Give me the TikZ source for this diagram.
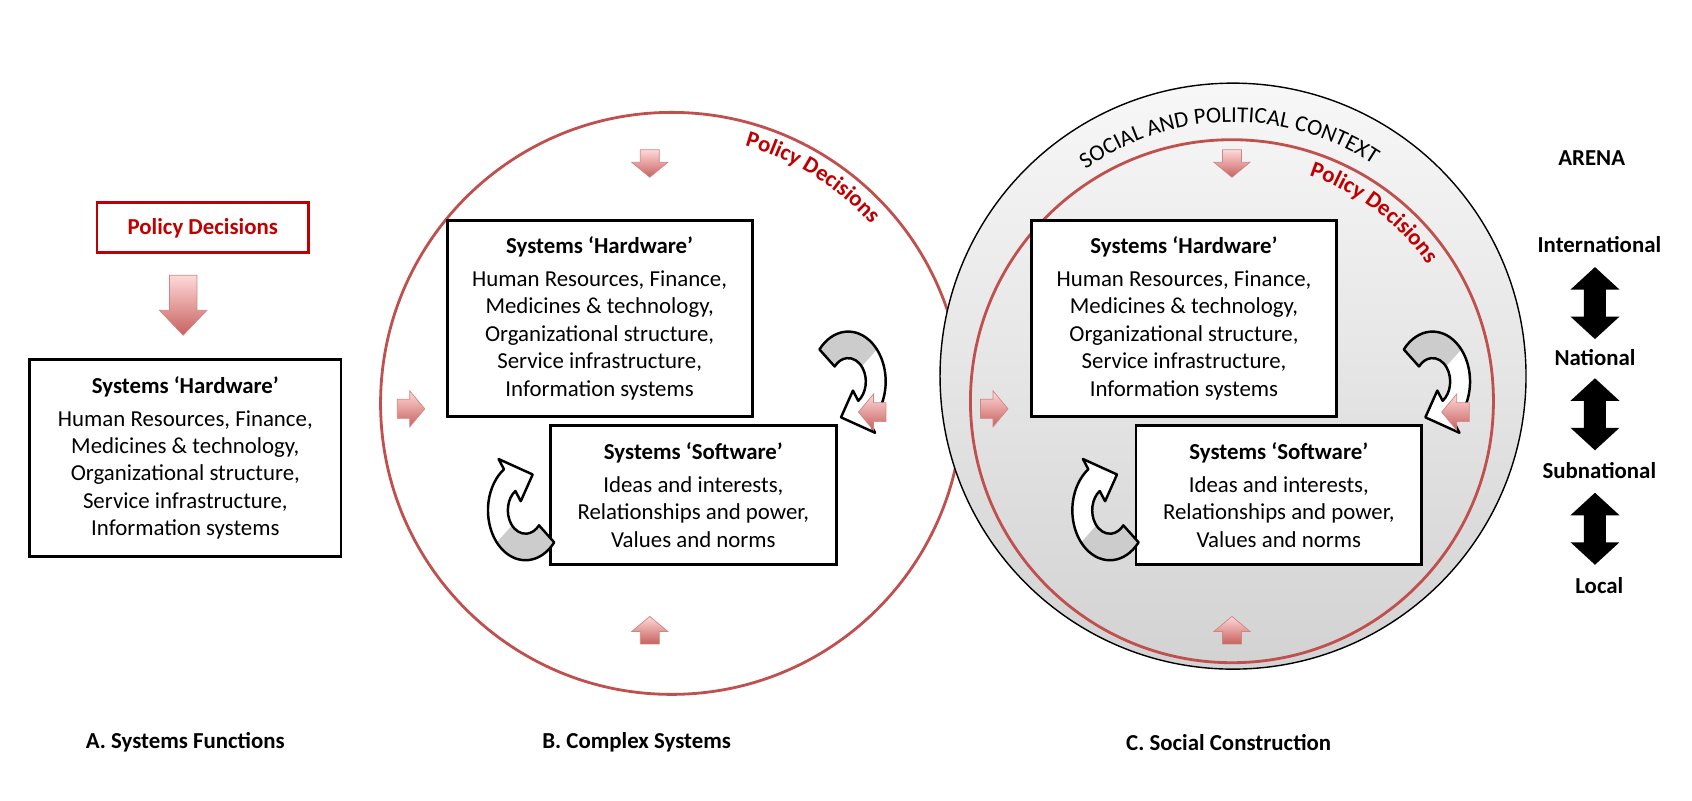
\documentclass[tikz,border=0pt]{standalone}
\usepackage{fontspec}
\setmainfont{Carlito}
\usepackage{tikz}
\usetikzlibrary{decorations.text}

\definecolor{pdred}{HTML}{C00000}
\definecolor{ringred}{HTML}{C0504D}

\tikzset{
  sysbox/.style={draw=black, line width=1.6pt, fill=white, align=center,
    inner sep=0pt, font=\fontsize{13}{15.6}\selectfont},
  redfill/.style={draw=ringred!70, thin, top color=red!15!white, bottom color=ringred!90},
  arena/.style={font=\fontsize{13}{15.6}\selectfont\bfseries},
  caption/.style={font=\fontsize{13}{15.6}\selectfont\bfseries}
}

% block arrow: #1 position, #2 angle, #3 length, #4 shaft, #5 head width, #6 head length, #7 style
\newcommand{\blockarrow}[7]{%
  \begin{scope}[shift={#1}, x=1cm, y=1cm, rotate=#2]
    \path[#7] ({-#3/2},{-#4/2}) -- ({#3/2-#6},{-#4/2}) -- ({#3/2-#6},{-#5/2})
      -- ({#3/2},0) -- ({#3/2-#6},{#5/2}) -- ({#3/2-#6},{#4/2})
      -- ({-#3/2},{#4/2}) -- cycle;
  \end{scope}}

% vertical double arrow at #1
\newcommand{\updown}[1]{%
  \begin{scope}[shift={#1}, x=1cm, y=1cm, rotate=90]
    \fill[black] (-0.72,0) -- (-0.27,0.49) -- (-0.27,0.22) -- (0.27,0.22)
      -- (0.27,0.49) -- (0.72,0) -- (0.27,-0.49) -- (0.27,-0.22)
      -- (-0.27,-0.22) -- (-0.27,-0.49) -- cycle;
  \end{scope}}

% ribbon arrow: #1 position, #2 rotation
\newcommand{\cyclearrow}[2]{%
  \begin{scope}[shift={#1}, x=1cm, y=1cm, rotate=#2, xscale=0.75]
    \fill[white] (140:1.0) arc[start angle=140, end angle=-55, radius=1.0]
      -- (-55:1.25) -- (-105:0.74) -- (-55:0.22) -- (-55:0.47)
      arc[start angle=-55, end angle=140, radius=0.47] -- cycle;
    \fill[gray!40] (140:1.0) arc[start angle=140, end angle=40, radius=1.0]
      -- (40:0.47) arc[start angle=40, end angle=140, radius=0.47] -- cycle;
    \draw[line width=1.4pt, line join=round] (140:1.0)
      arc[start angle=140, end angle=-55, radius=1.0]
      -- (-55:1.25) -- (-105:0.74) -- (-55:0.22) -- (-55:0.47)
      arc[start angle=-55, end angle=140, radius=0.47] -- cycle;
  \end{scope}}

\newcommand{\hwtext}{\textbf{Systems ‘Hardware’}\\[3pt]
  Human Resources, Finance,\\ Medicines \& technology,\\
  Organizational structure,\\ Service infrastructure,\\ Information systems}
\newcommand{\swtext}{\textbf{Systems ‘Software’}\\[3pt]
  Ideas and interests,\\ Relationships and power,\\ Values and norms}

\begin{document}
\begin{tikzpicture}[x=0.0218cm, y=-0.0218cm]
\useasboundingbox (0,0) rectangle (1552,734);

% A. Systems Functions
\node[draw=pdred, line width=1.6pt, minimum width=4.23cm, minimum height=1cm,
  text=pdred, font=\fontsize{13}{15.6}\selectfont\bfseries] (policyA) at (186,209) {Policy Decisions};
\blockarrow{(168,280)}{-90}{1.2}{0.55}{0.95}{0.5}{redfill}
\node[sysbox, minimum width=6.23cm, minimum height=3.95cm] (hwA) at (170,420) {\hwtext};
\node[caption] (capA) at (170,681) {A. Systems Functions};

% B. Complex Systems
\coordinate (cB) at (616,370);
\draw[ringred, line width=1.6pt] (cB) circle[radius=5.82cm];
\path[decorate, decoration={text along path, text align=center,
  text={|\fontsize{13}{15.6}\selectfont\bfseries\color{pdred}|Policy Decisions}}]
  ([shift={(80:5.36cm)}]cB) arc[start angle=80, end angle=36, radius=5.36cm];
\node[sysbox, minimum width=6.1cm, minimum height=3.92cm] (hwB) at (550,292) {\hwtext};
\node[sysbox, minimum width=5.71cm, minimum height=2.77cm] (swB) at (636,454) {\swtext};
\cyclearrow{(778,350)}{0}
\cyclearrow{(482,468)}{180}
\blockarrow{(596,150)}{-90}{0.55}{0.38}{0.72}{0.3}{redfill}
\blockarrow{(377,375)}{0}{0.55}{0.38}{0.72}{0.3}{redfill}
\blockarrow{(800,378)}{180}{0.55}{0.38}{0.72}{0.3}{redfill}
\blockarrow{(596,578)}{90}{0.55}{0.38}{0.72}{0.3}{redfill}
\node[caption] (capB) at (584,681) {B. Complex Systems};

% C. Social Construction
\coordinate (cCo) at (1131,345);
\coordinate (cCi) at (1130,368);
\draw[black, thick, top color=gray!6, bottom color=gray!35] (cCo) circle[radius=5.86cm];
\path[decorate, decoration={text along path, text align=center,
  text={|\fontsize{13}{15.6}\selectfont|SOCIAL AND POLITICAL CONTEXT}}]
  ([shift={(126:5.08cm)}]cCo) arc[start angle=126, end angle=56, radius=5.08cm];
\draw[ringred, line width=1.6pt] (cCi) circle[radius=5.23cm];
\path[decorate, decoration={text along path, text align=center,
  text={|\fontsize{13}{15.6}\selectfont\bfseries\color{pdred}|Policy Decisions}}]
  ([shift={(76:4.77cm)}]cCi) arc[start angle=76, end angle=30, radius=4.77cm];
\node[sysbox, minimum width=6.1cm, minimum height=3.92cm] (hwC) at (1086,292) {\hwtext};
\node[sysbox, minimum width=5.71cm, minimum height=2.77cm] (swC) at (1173,454) {\swtext};
\cyclearrow{(1314,350)}{0}
\cyclearrow{(1018,468)}{180}
\blockarrow{(1130,150)}{-90}{0.55}{0.38}{0.72}{0.3}{redfill}
\blockarrow{(912,375)}{0}{0.55}{0.38}{0.72}{0.3}{redfill}
\blockarrow{(1335,378)}{180}{0.55}{0.38}{0.72}{0.3}{redfill}
\blockarrow{(1130,578)}{90}{0.55}{0.38}{0.72}{0.3}{redfill}
\node[caption] (capC) at (1127,681) {C. Social Construction};

% arena
\node[arena] (arena) at (1460,145) {ARENA};
\node[arena] (intl) at (1467,224) {International};
\updown{(1463,278)}
\node[arena] (natl) at (1463,328) {National};
\updown{(1463,380)}
\node[arena] (subn) at (1467,432) {Subnational};
\updown{(1463,485)}
\node[arena] (locl) at (1467,537) {Local};
\end{tikzpicture}
\end{document}
